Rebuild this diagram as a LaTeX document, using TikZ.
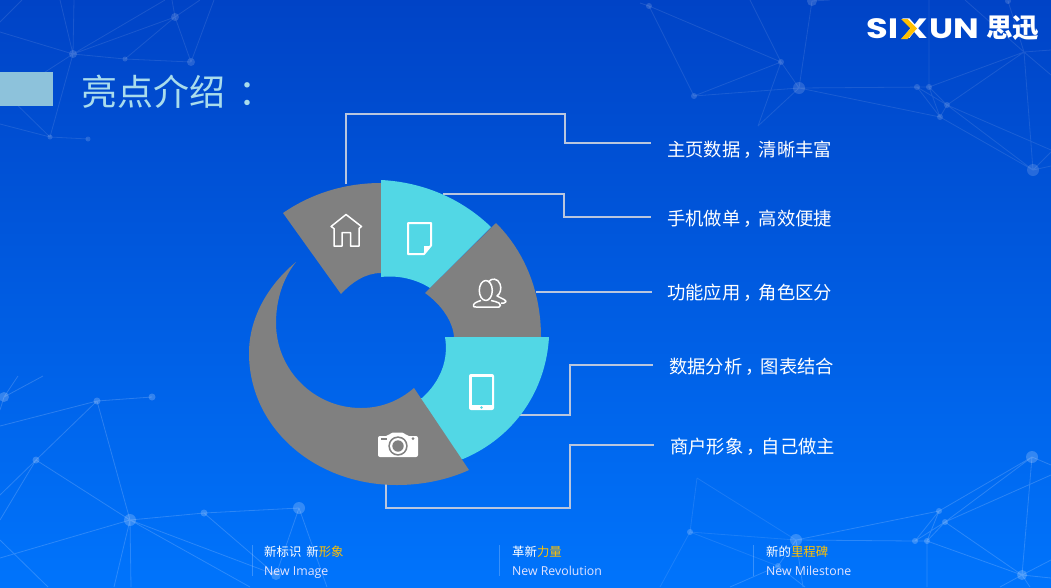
\documentclass[tikz,border=0pt]{standalone}
\usepackage{fontspec}
\setmainfont{Noto Sans CJK SC}
\newfontfamily\latinf{Open Sans}
\newfontfamily\logof{Poppins}
\newcommand{\cjkcomma}{\hspace{3.5pt}，\hspace{-3.5pt}}
\definecolor{segGray}{HTML}{808080}
\definecolor{segTeal}{HTML}{52D7E5}
\definecolor{connC}{HTML}{B9C6DE}
\definecolor{titleC}{HTML}{A9DCEC}
\definecolor{barC}{HTML}{8DC2DB}
\definecolor{goldC}{HTML}{FFC000}
\definecolor{bgTop}{HTML}{0043C6}
\definecolor{bgBottom}{HTML}{0074FC}
\tikzset{
  x=1pt,y=-1pt,
  netA/.style={draw=white,draw opacity=.10,line width=.8pt},
  netB/.style={draw=white,draw opacity=.17,line width=.8pt},
  dotA/.style={fill=white,fill opacity=.15},
  dotB/.style={fill=white,fill opacity=.2},
  conn/.style={draw=connC,line width=1.6pt},
  grayseg/.style={fill=segGray},
  tealseg/.style={fill=segTeal},
  icon/.style={draw=white,line width=1.5pt,line join=round},
  lbl/.style={anchor=west,text=white,inner sep=0pt,font=\fontsize{18.3}{20}\selectfont},
  bcn/.style={anchor=west,text=white,inner sep=0pt,font=\fontsize{12.4}{14}\selectfont},
  ben/.style={anchor=west,text=white!90!blue,inner sep=0pt,text height=9pt,text depth=3pt,font=\latinf\fontsize{12.3}{14}\selectfont},
  sepl/.style={draw=white,draw opacity=.22,line width=.8pt},
  logot/.style={text=white,inner sep=0pt,font=\logof\bfseries\fontsize{28}{30}\selectfont}
}
\begin{document}
\begin{tikzpicture}
\useasboundingbox (0,0) rectangle (1051,587);
\shade[top color=bgTop,bottom color=bgBottom] (0,0) rectangle (1051,587);
% --- network: top right
\coordinate (a) at (649,6);\coordinate (b) at (781,62);\coordinate (c) at (799,88);
\coordinate (d) at (694,96);\coordinate (e) at (758,126);\coordinate (f) at (812,1);
\coordinate (g) at (917,87);\coordinate (h) at (929,87);\coordinate (i) at (947,105);
\coordinate (j) at (940,117);\coordinate (k) at (1024,52);\coordinate (l) at (1033,170);
\coordinate (n) at (1008,1);
\path[netA] (a)--(b) (a)--(d) (750,0)--(b) (b)--(c) (b)--(d) (b)--(e) (c)--(f) (c)--(d) (c)--(e)
  (c)--(h) (c)--(j) (g)--(h) (g)--(j) (h)--(j) (g)--(i) (h)--(i) (i)--(j) (h)--(k) (i)--(k)
  (j)--(l) (i)--(l) (k)--(l) (k)--(1051,50) (k)--(1051,75) (929,0)--(h) (n)--(k) (965,0)--(k)
  (i)--(1051,150) (l)--(1051,152) (l)--(1051,166) (640,3)--(a) (f)--(830,0);
\fill[dotA] (a) circle (3) (b) circle (3) (c) circle (6) (d) circle (3) (f) circle (5)
  (g) circle (3) (h) circle (3) (i) circle (3) (j) circle (3) (l) circle (6) (n) circle (3);
% --- network: top left
\coordinate (A) at (73,54);\coordinate (B) at (175,17);\coordinate (C) at (125,59);
\coordinate (D) at (191,62);\coordinate (E) at (50,137);\coordinate (F) at (88,139);
\coordinate (G) at (8,96);
\path[netA] (A)--(B) (A)--(C) (C)--(D) (B)--(C) (B)--(D) (A)--(165,0) (A)--(74,0) (A)--(60,0)
  (A)--(0,32) (D)--(214,0) (B)--(172,0) (B)--(200,0) (A)--(G) (A)--(E) (E)--(F) (E)--(G)
  (E)--(0,124) (0,22)--(22,0);
\fill[dotA] (A) circle (4) (B) circle (4) (C) circle (2.5) (D) circle (4) (E) circle (2.5)
  (F) circle (2.5) (G) circle (2);
% --- network: bottom left
\coordinate (P) at (4,397);\coordinate (Q) at (97,401);\coordinate (R) at (152,397);
\coordinate (S) at (36,460);\coordinate (T) at (130,520);\coordinate (U) at (204,513);
\coordinate (V) at (299,508);\coordinate (W) at (276,575);
\path[netB] (Q)--(R) (0,426)--(Q) (Q)--(S) (Q)--(T) (S)--(T) (S)--(0,495) (S)--(0,520)
  (T)--(0,558) (T)--(U) (U)--(V) (T)--(W) (T)--(250,587) (U)--(W) (V)--(W) (V)--(327,587)
  (T)--(114,587) (T)--(131,587) (0,540)--(48,587) (P)--(43,376) (P)--(18,376) (P)--(0,410);
\fill[dotB] (P) circle (5) (Q) circle (3.5) (R) circle (3.5) (S) circle (3.5) (T) circle (6)
  (U) circle (3.5) (V) circle (6) (W) circle (5);
% --- network: bottom right
\coordinate (m1) at (697,478);\coordinate (m2) at (690,532);\coordinate (m3) at (796,540);
\coordinate (m4) at (939,511);\coordinate (m5) at (945,522);\coordinate (m6) at (915,541);
\coordinate (m7) at (927,541);\coordinate (m8) at (1032,457);\coordinate (m9) at (1022,575);
\coordinate (m10) at (778,566);
\path[netA] (m1)--(m2) (m1)--(m3) (m2)--(m10) (m2)--(660,587) (m2)--(m3);
\path[netB] (m3)--(m4) (m3)--(m6) (m6)--(m7)
  (m6)--(m4) (m6)--(m5) (m7)--(m4) (m7)--(m5) (m4)--(m8) (m5)--(m8) (m5)--(1051,475) (m8)--(m9)
  (m5)--(m9) (m7)--(m9) (m8)--(1051,465) (m9)--(1051,560) (m9)--(1051,578) (m9)--(1000,587)
  (m9)--(1030,587) (m10)--(730,587) (m10)--(m3) (m10)--(805,587) (m7)--(927,587) (m3)--(803,587);
\fill[dotB] (m2) circle (3) (m3) circle (6) (m4) circle (3) (m5) circle (3) (m6) circle (3)
  (m7) circle (3) (m8) circle (6) (m9) circle (5) (m10) circle (3);
% --- title bar and title
\fill[barC] (0,72) rectangle (53,106);
\node[anchor=west,text=titleC,inner sep=0pt,font=\fontsize{36}{40}\selectfont] (title) at (81,92) {亮点介绍\hspace{13pt}：};
% --- logo
\node[logot,anchor=west] (logoa) at (866,29) {\scalebox{1.26}[1]{SI}};
\node[logot,anchor=center] (logob) at (914.5,29) {\scalebox{1.32}[1]{X}};
\node[logot,anchor=east] (logoc) at (979,29) {\scalebox{1.22}[1]{UN}};
\fill[goldC] (901,19) -- (907.5,19) -- (917,28.5) -- (907.5,39) -- (901,39) -- (910.5,28.5) -- cycle;
\node[text=white,inner sep=0pt,anchor=west,font=\bfseries\fontsize{26.5}{28}\selectfont] (logod) at (986,28.5) {思迅};
% --- connector ends
\coordinate (c1a) at (346,184);\coordinate (c1b) at (346,114);\coordinate (c1c) at (565,114);\coordinate (c1d) at (565,143);\coordinate (c1e) at (651,143);
\coordinate (c2a) at (443,194);\coordinate (c2b) at (564,194);\coordinate (c2c) at (564,217);\coordinate (c2d) at (651,217);
\coordinate (c3a) at (536,292);\coordinate (c3b) at (652,292);
\coordinate (c4a) at (520,415);\coordinate (c4b) at (570,415);\coordinate (c4c) at (570,365);\coordinate (c4d) at (653,365);
\coordinate (c5a) at (386,484);\coordinate (c5b) at (386,508);\coordinate (c5c) at (570,508);\coordinate (c5d) at (570,445);\coordinate (c5e) at (654,445);
\draw[conn] (c1a)--(c1b)--(c1c)--(c1d)--(c1e);
\draw[conn] (c2a)--(c2b)--(c2c)--(c2d);
\draw[conn] (c3a)--(c3b);
\draw[conn] (c4a)--(c4b)--(c4c)--(c4d);
\draw[conn] (c5a)--(c5b)--(c5c)--(c5d)--(c5e);
% --- ring segments
\fill[grayseg] (283,213) .. controls (312,193) and (346,183) .. (381,183) -- (381,273) .. controls (365,273) and (351,283) .. (341,294) -- cycle;
\fill[tealseg] (381,180) .. controls (422,182) and (461,198) .. (491,227) -- (430,288) .. controls (416,279) and (398,275) .. (381,277) -- cycle;
\fill[grayseg] (496,223) .. controls (525,252) and (541,292) .. (541,337) -- (454,337) .. controls (453,322) and (442,305) .. (425,293) -- cycle;
\fill[tealseg] (445,337) -- (549,337) .. controls (546,390) and (515,437) .. (463,459) -- (459,459) -- (418,398) -- (422,398) .. controls (440,382) and (449,360) .. (445,337) -- cycle;
\fill[grayseg] (296,262) .. controls (268,285) and (249,318) .. (249,353) .. controls (249,428) and (315,485) .. (397,485) .. controls (422,485) and (447,480) .. (469,470) -- (414,388) .. controls (399,401) and (381,408) .. (361,408) .. controls (314,408) and (276,370) .. (276,323) .. controls (276,300) and (283,278) .. (296,262) -- cycle;
% --- icons: home
\draw[icon] (346,214.5)--(361.5,226.5)--(359,228.5)--(359,246)--(350.5,246)--(350.5,232.5)--(342,232.5)--(342,246)--(334,246)--(334,228.5)--(331,226.5)--cycle;
% document
\draw[icon,line width=2pt] (408,223)--(431,223)--(431,245.5)--(424,254)--(408,254)--cycle;
\fill[white] (424,246)--(431,246)--(424,254)--cycle;
% users
\draw[icon] (485.8,290.5) ellipse (6.5 and 10);
\draw[icon] (481,300.5) .. controls (476,302) and (473,303.5) .. (473.5,306) .. controls (473.8,307) and (474,307) .. (476,307) -- (499,307) .. controls (501,307) and (501,304) .. (499,303) .. controls (497,302) and (494,301) .. (491,300.5);
\draw[icon] (489,281.5) .. controls (491,278) and (498,278) .. (500,284) .. controls (502,289) and (500,294) .. (497,296) -- (504,299.5) .. controls (507,301) and (506,303) .. (504,303) -- (501,303);
% tablet
\fill[white,rounded corners=2pt] (469,374) rectangle (494,410);
\fill[segTeal] (471.5,377) rectangle (491.5,405);
\fill[segTeal] (481.5,407.5) circle (1.3);
% camera
\fill[white,rounded corners=2pt] (378,436) -- (388,436) -- (391,432.5) -- (404,432.5) -- (407,436) -- (418,436) -- (418,457) -- (378,457) -- cycle;
\fill[segGray] (398,446) circle (9.7);
\fill[white] (398,446) circle (8);
\fill[segGray] (398,446) circle (5.7);
\fill[segGray] (381,437.5) rectangle (387,439.5);
\fill[segGray] (413,438.5) circle (1.5);
% --- labels
\node[lbl] (t1) at (667,150) {主页数据\cjkcomma 清晰丰富};
\node[lbl] (t2) at (667,218.5) {手机做单\cjkcomma 高效便捷};
\node[lbl] (t3) at (667,292.5) {功能应用\cjkcomma 角色区分};
\node[lbl] (t4) at (669,367) {数据分析\cjkcomma 图表结合};
\node[lbl] (t5) at (670,446.5) {商户形象\cjkcomma 自己做主};
% --- bottom strip
\draw[sepl] (252,545)--(252,576);
\draw[sepl] (499,545)--(499,576);
\draw[sepl] (753,545)--(753,576);
\node[bcn] (b1) at (264,552) {新标识\hspace{5pt}新\textcolor{goldC}{形象}};
\node[ben] (b2) at (264,572) {New Image};
\node[bcn] (b3) at (512,552) {革新\textcolor{goldC}{力量}};
\node[ben] (b4) at (512,572) {New Revolution};
\node[bcn] (b5) at (766,552) {新的\textcolor{goldC}{里程碑}};
\node[ben] (b6) at (766,572) {New Milestone};
\end{tikzpicture}
\end{document}
